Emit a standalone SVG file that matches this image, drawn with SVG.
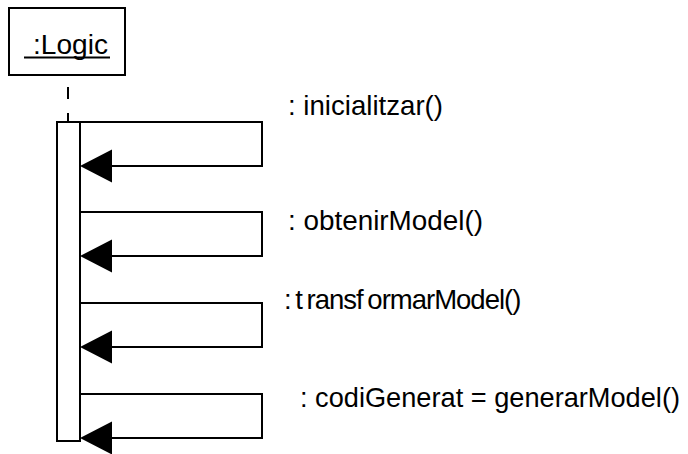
<svg xmlns="http://www.w3.org/2000/svg" width="688" height="454" viewBox="0 0 688 454">
  <style>
    .box { fill: #fff; stroke: #000; stroke-width: 2; }
    .line { fill: none; stroke: #000; stroke-width: 2; }
    .head { fill: #000; stroke: none; }
    .label { font-family: "Liberation Sans", Arial, sans-serif; font-size: 27.5px; fill: #000; }
  </style>
  <defs>
    <!-- filled arrowhead, tip at the origin pointing left -->
    <polygon id="arrowhead" class="head" points="0,0 32,-16.5 32,16.5"/>
  </defs>

  <g id="logic">
    <rect class="box" x="9" y="8" width="116" height="67"/>
    <text class="label" x="33" y="54" textLength="75" lengthAdjust="spacingAndGlyphs">:Logic</text>
    <line class="line" x1="24" y1="57.5" x2="110" y2="57.5"/>
  </g>

  <g id="lifeline">
    <line class="line" x1="68" y1="87" x2="68" y2="99"/>
    <line class="line" x1="68" y1="113" x2="68" y2="122"/>
    <rect class="box" x="57" y="122" width="23" height="319"/>
  </g>

  <g id="connectors">
    <polyline class="line" points="80,122 262,122 262,166 110,166"/>
    <use href="#arrowhead" x="80" y="166"/>
    <polyline class="line" points="80,212 262,212 262,256 110,256"/>
    <use href="#arrowhead" x="80" y="256"/>
    <polyline class="line" points="80,303 262,303 262,347 110,347"/>
    <use href="#arrowhead" x="80" y="347"/>
    <polyline class="line" points="80,394 262,394 262,438 110,438"/>
    <use href="#arrowhead" x="80" y="438"/>
  </g>

  <g id="labels">
    <text class="label" x="288" y="115" textLength="155" lengthAdjust="spacingAndGlyphs">: inicialitzar()</text>
    <text class="label" x="288" y="230" textLength="195" lengthAdjust="spacingAndGlyphs">: obtenirModel()</text>
    <text class="label" x="284" y="309" style="word-spacing:-2px;letter-spacing:-1px">: t ransf ormarModel()</text>
    <text class="label" x="300" y="407" textLength="380" lengthAdjust="spacingAndGlyphs">: codiGenerat  = generarModel()</text>
  </g>
</svg>
